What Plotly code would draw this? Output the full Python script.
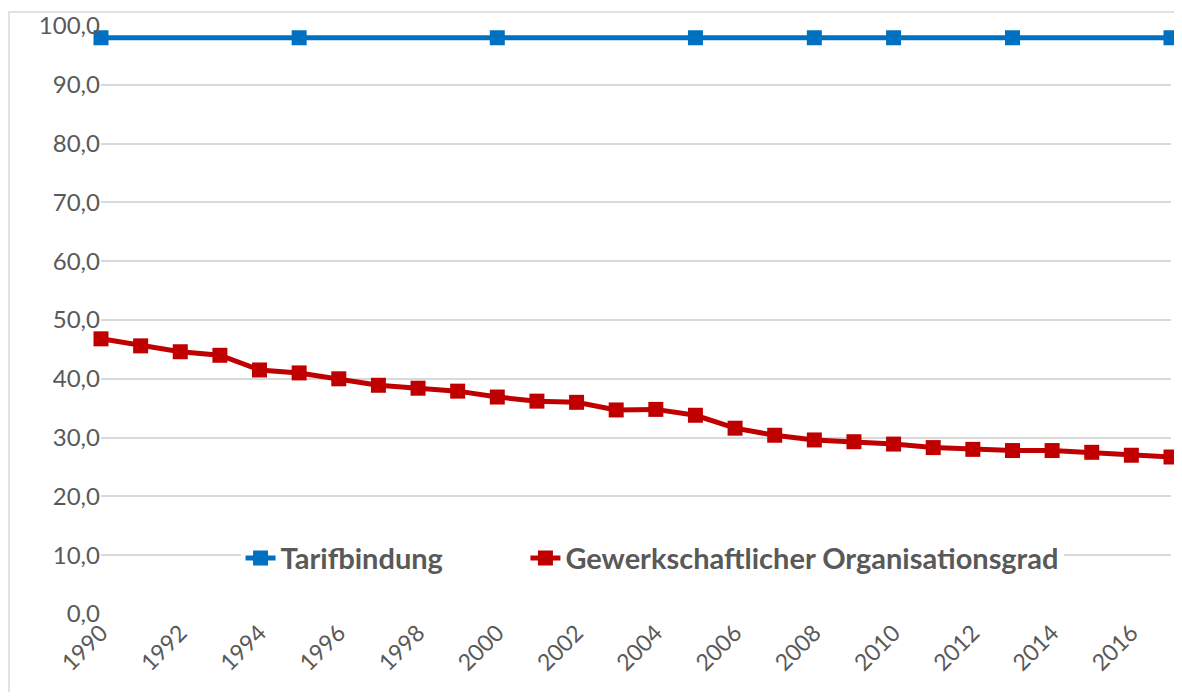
import plotly.graph_objects as go

years = list(range(1990, 2018))
organisationsgrad = [46.8, 45.6, 44.6, 44.0, 41.5, 41.0, 40.0, 38.9, 38.4, 37.9,
                     36.9, 36.2, 36.0, 34.7, 34.8, 33.8, 31.6, 30.4, 29.6, 29.3,
                     28.9, 28.3, 28.0, 27.8, 27.8, 27.5, 27.0, 26.7]
tarif_years = [1990, 1995, 2000, 2005, 2008, 2010, 2013, 2017]
tarifbindung = [98.0, 98.0, 98.0, 98.0, 98.0, 98.0, 98.0, 98.0]
x_ticks = list(range(1990, 2017, 2))
y_ticks = [0, 10, 20, 30, 40, 50, 60, 70, 80, 90, 100]

BLUE = "#0070C0"
RED = "#C00000"
GRAY = "#595959"
FONT = "Lato"
NB = "\u00a0"

fig = go.Figure()
fig.add_trace(go.Scatter(
    x=tarif_years, y=tarifbindung, name="Tarifbindung" + NB * 11, mode="lines+markers",
    line=dict(color=BLUE, width=5), marker=dict(symbol="square", size=15, color=BLUE),
    cliponaxis=False))
fig.add_trace(go.Scatter(
    x=years, y=organisationsgrad, name="Gewerkschaftlicher Organisationsgrad",
    mode="lines+markers",
    line=dict(color=RED, width=5), marker=dict(symbol="square", size=15, color=RED),
    cliponaxis=False))

# page body has an 8px margin, so the figure is sized/offset to compensate
fig.update_layout(
    width=1174, height=684,
    margin=dict(l=93, r=11, t=18, b=78),
    paper_bgcolor="white", plot_bgcolor="white",
    separators=",.",
    font=dict(family=FONT, color=GRAY),
    xaxis=dict(range=[1990, 2017], tickvals=x_ticks, ticktext=[str(t) for t in x_ticks],
               tickangle=-45, showgrid=False, zeroline=False, showline=False,
               automargin=False,
               tickfont=dict(size=23, color=GRAY, family=FONT), ticks=""),
    yaxis=dict(range=[0, 100], tickvals=y_ticks, tickformat=".1f",
               showgrid=True, gridcolor="#D9D9D9", gridwidth=1.5, zeroline=False,
               showline=False, ticks="", ticklen=8, automargin=False,
               tickfont=dict(size=24, color=GRAY, family=FONT)),
    legend=dict(orientation="h", x=0.515, xanchor="center", y=0.095, yanchor="middle",
                bgcolor="white", font=dict(size=29, color=GRAY, family=FONT, weight="bold"),
                traceorder="normal"),
    shapes=[dict(type="rect", xref="paper", yref="paper",
                 x0=(9 - 101) / 1070, x1=(1195 - 101) / 1070,
                 y0=(614 - 715) / 588, y1=(614 - 12) / 588,
                 line=dict(color="#D9D9D9", width=1.5), fillcolor="rgba(0,0,0,0)",
                 layer="below")],
)
fig.write_html("out.html")
